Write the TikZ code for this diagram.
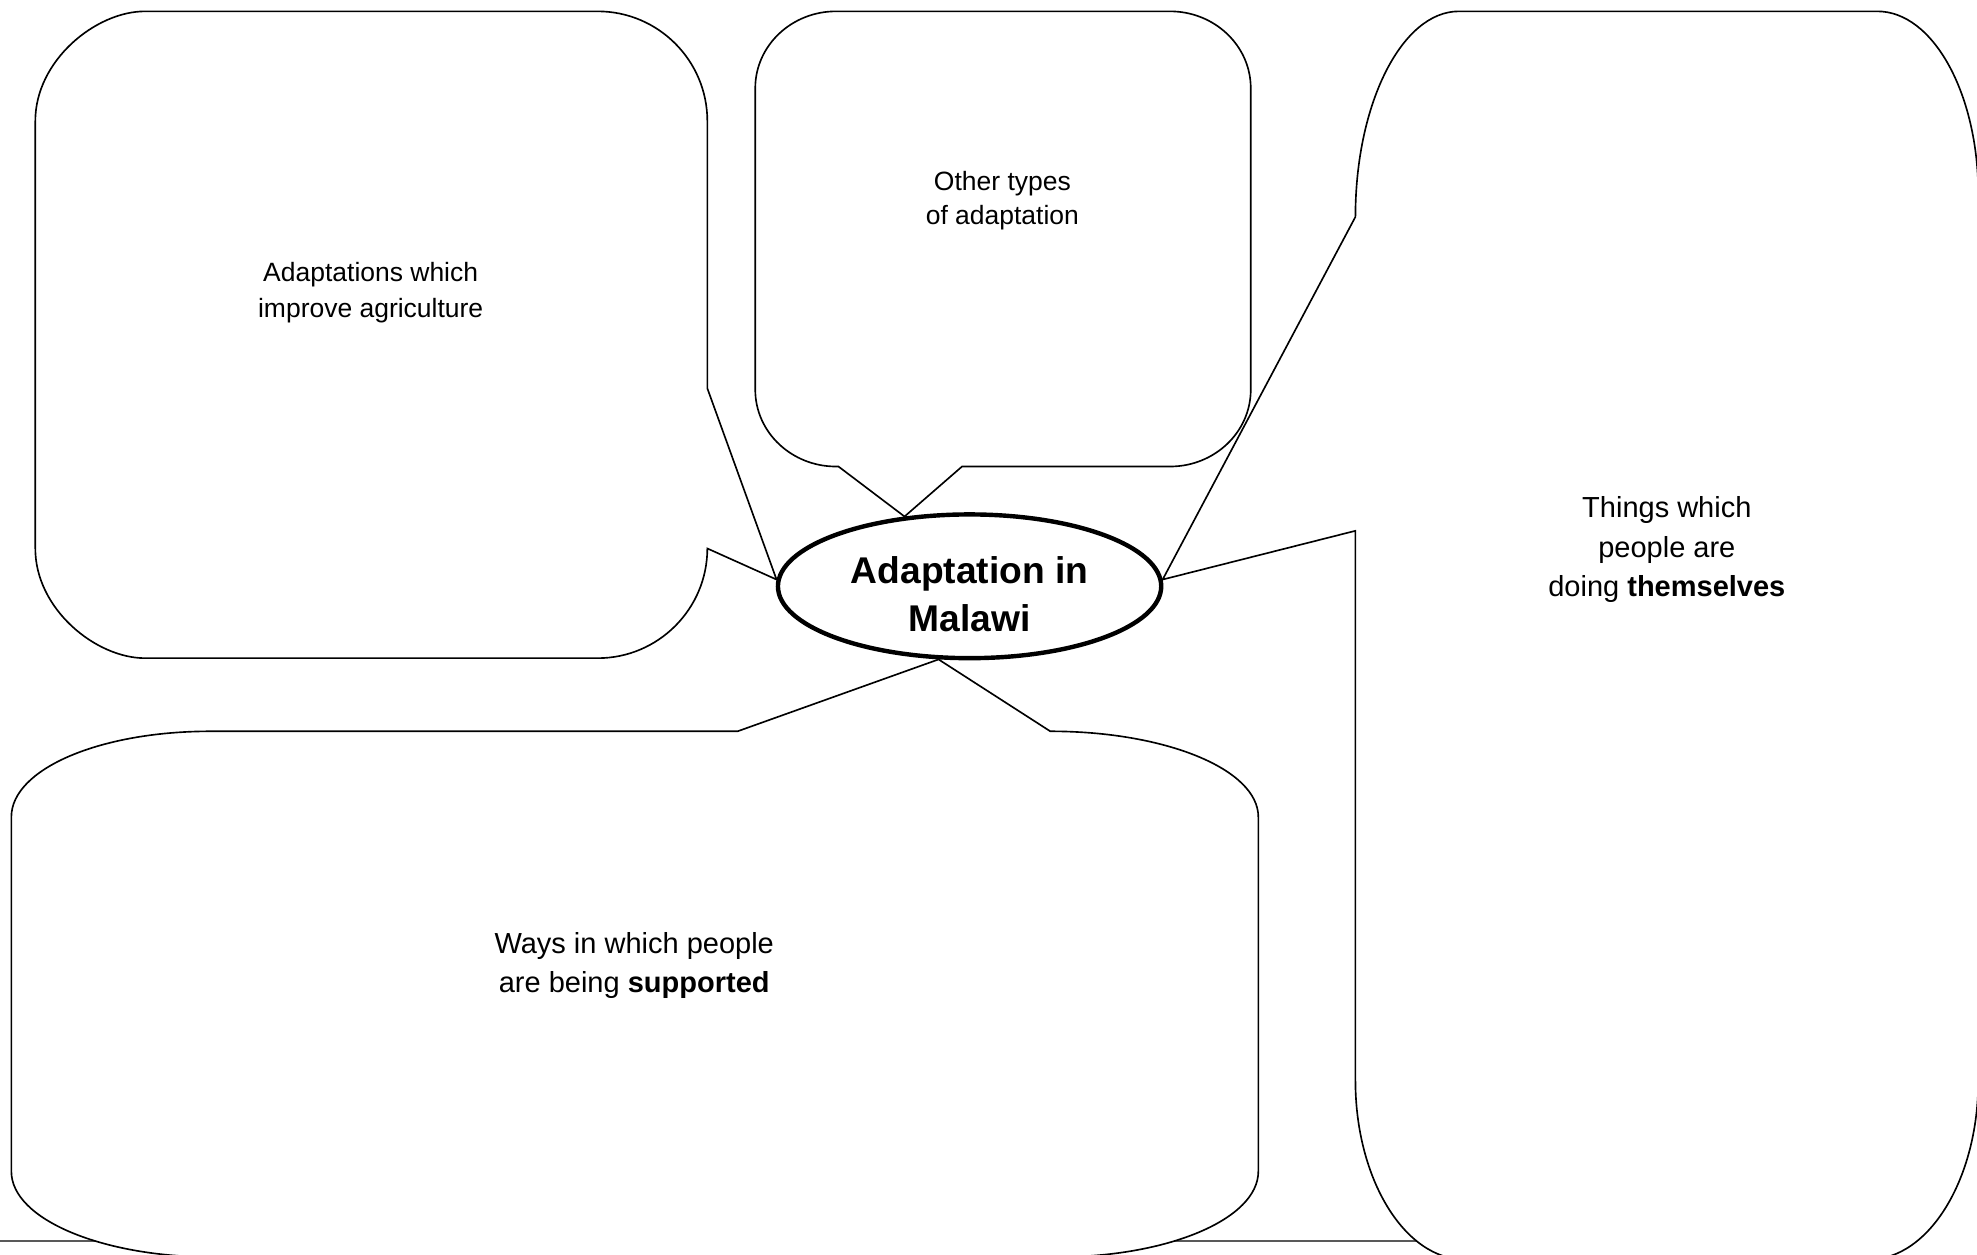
\documentclass[tikz,border=0pt]{standalone}
\usepackage{fontspec}
\setmainfont{Liberation Sans}
\usetikzlibrary{shapes.geometric}
\begin{document}
\begin{tikzpicture}[x=1pt,y=-1pt,
  callout/.style={draw=black, line width=1.3pt, fill=white, line join=miter},
  boxtext/.style={align=center, inner sep=0pt, text=black},
  hub/.style={ellipse, draw=black, line width=3.5pt, fill=white, minimum width=304pt, minimum height=114pt, inner sep=0pt, font=\bfseries\fontsize{29.5}{38}\selectfont},
  floorline/.style={draw=black!65, line width=1.5pt}
]
\useasboundingbox (0,0) rectangle (1568,995);
\clip (0,0) rectangle (1568,995);
\coordinate (fl) at (0,984);
\coordinate (fr) at (1300,984);
\draw[floorline] (fl) -- (fr);

\node[hub] (hub) at (769,465) {\raisebox{-15.5pt}[0pt][0pt]{\begin{tabular}{@{}c@{}}Adaptation in\\Malawi\end{tabular}}};

% top-left callout
\draw[callout] (561,308) -- (561,96) .. controls (561,48) and (522,9) .. (474,9) -- (115,9) .. controls (76,9) and (28,48) .. (28,96) -- (28,435) .. controls (28,483) and (76,522) .. (115,522) -- (474,522) .. controls (522,522) and (561,483) .. (561,435) -- (hub.178) -- cycle;

% top-middle callout
\draw[callout] (665,370) -- (hub.133) -- (763,370) -- (928,370) .. controls (963,370) and (992,343) .. (992,309) -- (992,70) .. controls (992,36) and (963,9) .. (928,9) -- (663,9) .. controls (628,9) and (599,36) .. (599,70) -- (599,309) .. controls (599,343) and (628,370) .. (663,370) -- cycle;

% right callout
\draw[callout] (1075,421) -- (hub.2) -- (1075,172) .. controls (1075,82) and (1112,9) .. (1157,9) -- (1489,9) .. controls (1533,9) and (1569,74) .. (1569,154) -- (1569,857) .. controls (1569,935) and (1530,999) .. (1482,999) -- (1162,999) .. controls (1114,999) and (1075,935) .. (1075,857) -- cycle;

% bottom callout
\draw[callout] (585,580) -- (hub.247) -- (833,580) .. controls (924,580) and (998,610) .. (998,648) -- (998,929) .. controls (998,967) and (926,997) .. (838,997) -- (169,997) .. controls (81,997) and (9,967) .. (9,929) -- (9,648) .. controls (9,610) and (79,580) .. (167,580) -- cycle;

\node[boxtext, font=\fontsize{21}{28}\selectfont] (tA) at (294,232) {Adaptations which\\improve agriculture};
\node[boxtext, font=\fontsize{21}{27}\selectfont] (tM) at (795,159) {Other types\\of adaptation};
\node[boxtext, font=\fontsize{23}{31.5}\selectfont] (tR) at (1322,436) {Things which\\people are\\doing \textbf{themselves}};
\node[boxtext, font=\fontsize{23}{31}\selectfont] (tS) at (503,766) {Ways in which people\\are being \textbf{supported}};
\end{tikzpicture}
\end{document}
